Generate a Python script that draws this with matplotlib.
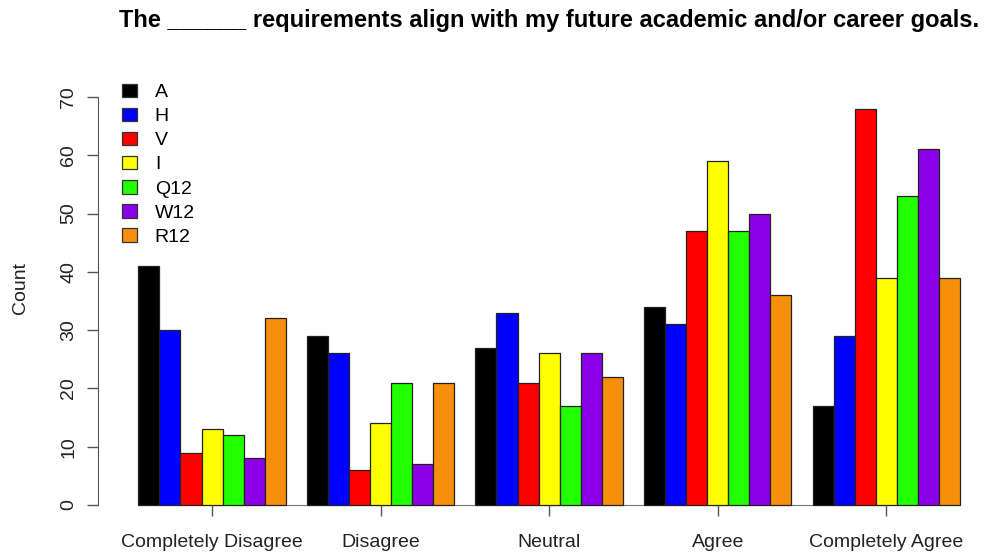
import numpy as np
import matplotlib
matplotlib.use("Agg")
import matplotlib.pyplot as plt
from matplotlib.patches import Patch

plt.rcParams['font.family'] = ['Liberation Sans', 'DejaVu Sans']

categories = ["Completely Disagree", "Disagree", "Neutral", "Agree", "Completely Agree"]
series = ["A", "H", "V", "I", "Q12", "W12", "R12"]
colors = ["#000000", "#0000FF", "#FF0000", "#FFFF00", "#22FF00", "#8B00E8", "#F78F0A"]

A = [41, 29, 27, 34, 17]
H = [30, 26, 33, 31, 29]
V = [9, 6, 21, 47, 68]
I = [13, 14, 26, 59, 39]
Q12 = [12, 21, 17, 47, 53]
W12 = [8, 7, 26, 50, 61]
R12 = [32, 21, 22, 36, 39]
values = [A, H, V, I, Q12, W12, R12]

yticks = [0, 10, 20, 30, 40, 50, 60, 70]

W, H_PX = 984, 554
fig = plt.figure(figsize=(W / 100, H_PX / 100), dpi=100)

# axes placed in pixel terms, mimicking R's barplot layout
ax_left, ax_right = 98, 984
ax_top, ax_bot = 80, 521
ax = fig.add_axes([ax_left / W, 1 - ax_bot / H_PX, (ax_right - ax_left) / W, (ax_bot - ax_top) / H_PX])

px_per_unit = (960 - 138.3) / 39
x0 = 1 - (138.3 - ax_left) / px_per_unit
x1 = 40 + (ax_right - 960) / px_per_unit
py = (505 - 97) / 70
ax.set_xlim(x0, x1)
ax.set_ylim(-(ax_bot - 505) / py, 70 + (97 - ax_top) / py)

n = len(series)
centers = []
for g in range(len(categories)):
    left = 1 + g * (n + 1)
    centers.append(left + n / 2)
    for s in range(n):
        ax.bar(left + s, values[s][g], width=1, align='edge', color=colors[s],
               edgecolor="#222222", linewidth=0.9)

for side in ["top", "right"]:
    ax.spines[side].set_visible(False)
ax.spines["left"].set_bounds(0, 70)
ax.spines["left"].set_color("#555555")
ax.spines["bottom"].set_position(("data", 0))
ax.spines["bottom"].set_bounds(centers[0], centers[-1])
ax.spines["bottom"].set_color("#777777")
ax.spines["bottom"].set_zorder(0)

ax.set_yticks(yticks)
ax.set_yticklabels([str(t) for t in yticks], rotation=90, va="center")
ax.set_xticks(centers)
ax.set_xticklabels(categories)
ax.tick_params(axis="y", length=8, width=1, color="#555555", labelsize=14, pad=7, labelcolor="#222222")
ax.tick_params(axis="x", length=8, width=1, color="#555555", labelsize=14, pad=13, labelcolor="#222222")

fig.text(20 / W, 1 - 288 / H_PX, "Count", rotation=90, ha="center", va="center", fontsize=14, color="#222222")
fig.text(549 / W, 1 - 20 / H_PX, "The ______ requirements align with my future academic and/or career goals.",
         ha="center", va="center", fontsize=17, fontweight="bold")

handles = [Patch(facecolor=c, edgecolor="#333333", linewidth=0.9) for c in colors]
fig.legend(handles, series, loc="upper left", bbox_to_anchor=(114 / W, 1 - 76 / H_PX),
           frameon=False, fontsize=14, handlelength=0.8, handleheight=0.7,
           handletextpad=0.9, labelspacing=0.33, borderaxespad=0)

fig.savefig("out.png", dpi=100)
